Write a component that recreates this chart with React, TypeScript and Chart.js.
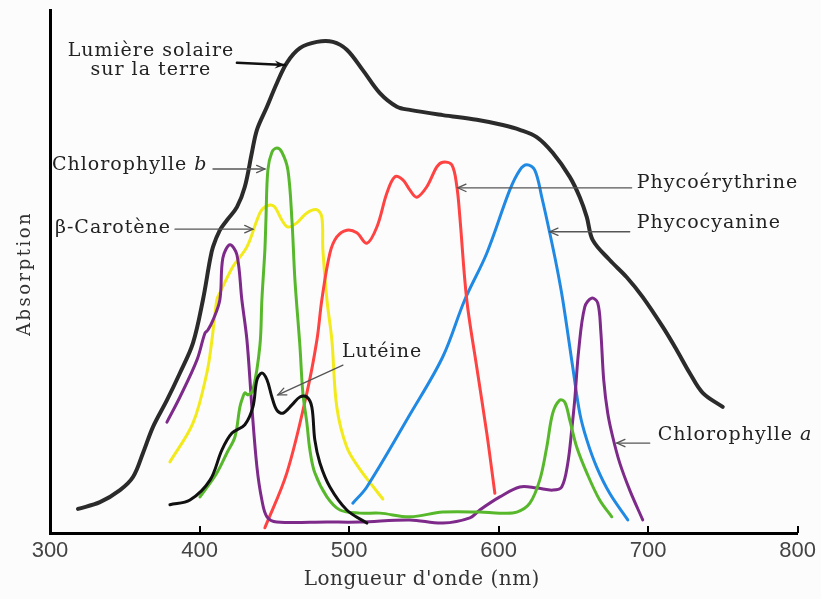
import React, { useEffect, useRef } from "react";
import { Chart, registerables } from "chart.js";

Chart.register(...registerables);

const W = 821;
const H = 599;

// Axis ranges (wavelength in nm, absorption in relative units)
const X_MIN = 300;
const X_MAX = 800;
const X_STEP = 100;
const Y_MIN = 0;
const Y_MAX = 100;

// Lumière solaire sur la terre
const sunNm = [318.7, 333.4, 346.8, 355.5, 362.2, 368.9, 378.2, 386.9, 395.6, 402.3, 407.0, 409.0, 413.6, 418.3, 425.0, 430.3, 435.0, 438.4, 445.1, 451.7, 458.4, 467.1, 478.5, 489.2, 498.5, 509.2, 520.6, 532.0, 540.6, 562.7, 585.4, 602.8, 614.2, 625.5, 636.2, 647.6, 654.3, 659.0, 663.0, 674.3, 685.7, 696.4, 709.8, 719.1, 727.8, 736.5, 749.9];
const sunAbs = [4.6, 5.9, 8.2, 10.7, 15.3, 20.3, 25.4, 30.6, 36.3, 44.6, 52.2, 54.7, 57.9, 59.8, 62.3, 66.2, 72.7, 77.1, 81.5, 86.0, 89.9, 92.7, 93.9, 93.9, 92.4, 88.5, 84.1, 81.5, 80.9, 79.9, 79.0, 78.0, 77.1, 75.7, 72.7, 68.1, 64.2, 60.4, 56.0, 52.2, 48.9, 45.1, 39.4, 35.0, 30.6, 26.8, 24.1];

// Chlorophylle b
const chlBNm = [400.3, 411.6, 418.3, 423.7, 427.0, 429.0, 430.3, 432.4, 435.7, 440.4, 441.7, 443.7, 444.4, 445.7, 448.4, 451.7, 455.1, 459.1, 461.8, 463.8, 467.1, 469.1, 471.8, 473.8, 477.1, 485.2, 493.9, 507.2, 520.6, 540.6, 562.7, 587.4, 600.8, 612.2, 620.9, 627.5, 632.2, 636.2, 640.9, 644.3, 647.6, 652.3, 659.0, 667.6, 675.7];
const chlBAbs = [6.9, 11.5, 15.3, 18.4, 24.1, 26.0, 26.8, 26.4, 27.3, 35.9, 44.6, 54.1, 59.8, 69.4, 72.8, 73.6, 72.8, 69.4, 59.8, 48.4, 35.9, 26.8, 21.0, 15.9, 11.5, 6.9, 4.4, 3.8, 3.8, 3.1, 4.0, 4.0, 3.8, 4.0, 5.7, 10.1, 16.4, 22.9, 25.4, 25.0, 21.6, 16.4, 11.5, 6.3, 3.1];

// Chlorophylle a
const chlANm = [378.2, 386.9, 398.3, 403.6, 405.6, 409.0, 413.6, 415.6, 420.3, 425.0, 428.3, 431.7, 435.0, 438.4, 441.7, 445.1, 451.7, 485.2, 507.2, 540.6, 562.7, 580.8, 587.4, 600.8, 614.2, 625.5, 636.2, 642.2, 646.3, 648.9, 650.9, 653.6, 657.6, 662.3, 666.3, 668.3, 670.3, 673.0, 676.3, 681.0, 687.7, 696.4];
const chlAAbs = [21.2, 26.0, 33.1, 38.2, 38.8, 40.7, 44.6, 52.6, 55.1, 53.2, 44.6, 36.9, 24.1, 12.6, 6.3, 3.1, 2.1, 2.1, 2.1, 2.5, 1.9, 2.9, 4.4, 6.9, 8.8, 8.6, 8.2, 8.8, 13.4, 19.7, 25.4, 35.0, 43.2, 44.9, 44.0, 38.8, 29.3, 22.9, 18.4, 13.4, 8.2, 2.5];

// Phycoérythrine
const phycoENm = [443.7, 458.4, 471.8, 478.5, 481.8, 487.2, 491.8, 498.5, 505.2, 511.9, 518.6, 525.3, 530.6, 536.0, 540.6, 545.3, 552.0, 558.7, 562.7, 568.7, 572.1, 574.1, 578.7, 585.4, 592.1, 597.5];
const phycoEAbs = [1.0, 11.5, 26.8, 36.9, 44.6, 53.5, 56.6, 57.9, 57.4, 55.4, 58.5, 65.0, 68.1, 67.5, 65.6, 64.2, 66.2, 70.0, 70.9, 70.4, 66.2, 60.4, 44.6, 31.7, 19.1, 7.6];

// Phycocyanine
const phycoCNm = [502.5, 511.9, 540.6, 562.7, 577.4, 592.1, 607.5, 614.2, 618.9, 624.2, 628.9, 634.2, 638.9, 642.9, 649.6, 654.3, 659.0, 665.6, 674.3, 686.4];
const phycoCAbs = [5.7, 8.8, 22.6, 33.7, 44.6, 53.5, 65.6, 69.4, 70.4, 69.4, 64.2, 57.4, 50.9, 44.6, 31.7, 22.9, 17.8, 12.6, 7.6, 2.5];

// β-Carotène
const caroNm = [380.2, 395.6, 404.9, 408.3, 411.6, 413.6, 422.3, 431.7, 438.4, 441.7, 447.1, 450.4, 455.1, 459.1, 465.1, 471.8, 478.5, 481.8, 482.5, 485.2, 488.5, 491.8, 498.5, 507.2, 515.2, 522.6];
const caroAbs = [13.6, 21.0, 30.6, 36.9, 44.6, 45.9, 50.9, 54.7, 59.8, 61.8, 62.7, 62.3, 59.8, 58.5, 59.3, 61.2, 61.8, 60.4, 54.1, 44.6, 36.9, 24.1, 16.4, 12.2, 9.2, 6.5];

// Lutéine
const lutNm = [380.2, 393.6, 407.0, 415.0, 421.7, 430.3, 435.7, 438.4, 441.7, 445.1, 448.4, 451.7, 455.7, 461.8, 467.1, 471.8, 475.1, 477.1, 480.5, 487.2, 498.5, 511.9];
const lutAbs = [5.4, 6.3, 10.1, 15.9, 19.1, 20.7, 24.1, 29.3, 30.6, 29.3, 26.0, 23.5, 22.9, 24.5, 26.0, 26.0, 24.1, 17.8, 13.4, 8.8, 4.4, 1.9];

const SERIF = '"DejaVu Serif", "Liberation Serif", serif';
const TICK_FONT = '"Liberation Sans", "DejaVu Sans", sans-serif';

type Series = { label: string; nm: number[]; abs: number[]; color: string; width: number };

// First entry ends up drawn on top
const SERIES: Series[] = [
  { label: "Lutéine", nm: lutNm, abs: lutAbs, color: "#111111", width: 3 },
  { label: "Chlorophylle b", nm: chlBNm, abs: chlBAbs, color: "#58b82c", width: 3 },
  { label: "Chlorophylle a", nm: chlANm, abs: chlAAbs, color: "#7d2a8a", width: 3 },
  { label: "Phycoérythrine", nm: phycoENm, abs: phycoEAbs, color: "#ff4242", width: 3 },
  { label: "Phycocyanine", nm: phycoCNm, abs: phycoCAbs, color: "#2089e3", width: 3 },
  { label: "β-Carotène", nm: caroNm, abs: caroAbs, color: "#f2ea1a", width: 3 },
  { label: "Lumière solaire sur la terre", nm: sunNm, abs: sunAbs, color: "#2b2b2b", width: 4 },
];

// Callout labels: text anchor and arrow in data coordinates
type Note = {
  lines: string[];
  italic?: string;
  at: [number, number];
  align: "left" | "center";
  tail: [number, number];
  tip: [number, number];
  heavy?: boolean;
};

const NOTES: Note[] = [
  { lines: ["Lumière solaire", "sur la terre"], at: [367.5, 92.2], align: "center", tail: [425.0, 89.9], tip: [457.1, 89.5], heavy: true },
  { lines: ["Chlorophylle "], italic: "b", at: [301.3, 70.4], align: "left", tail: [409.0, 69.6], tip: [443.7, 69.6] },
  { lines: ["β-Carotène"], at: [303.3, 58.3], align: "left", tail: [383.6, 58.1], tip: [435.7, 58.1] },
  { lines: ["Phycoérythrine"], at: [692.4, 66.9], align: "left", tail: [689.0, 66.0], tip: [572.7, 66.0] },
  { lines: ["Phycocyanine"], at: [692.4, 59.3], align: "left", tail: [687.7, 57.6], tip: [634.2, 57.6] },
  { lines: ["Chlorophylle "], italic: "a", at: [706.4, 18.7], align: "left", tail: [701.1, 17.2], tip: [679.0, 17.2] },
  { lines: ["Lutéine"], at: [495.2, 34.6], align: "left", tail: [495.9, 32.1], tip: [452.4, 26.4] },
];

const X_TITLE = "Longueur d'onde (nm)";
const Y_TITLE = "Absorption";

function arrow(ctx: CanvasRenderingContext2D, x1: number, y1: number, x2: number, y2: number, heavy: boolean) {
  const ang = Math.atan2(y2 - y1, x2 - x1);
  ctx.save();
  ctx.strokeStyle = heavy ? "#111" : "#555";
  ctx.fillStyle = heavy ? "#111" : "#555";
  ctx.lineWidth = heavy ? 2.5 : 1.3;
  ctx.lineCap = "round";
  ctx.beginPath();
  ctx.moveTo(x1, y1);
  ctx.lineTo(x2, y2);
  ctx.stroke();
  const len = heavy ? 11 : 9;
  const spread = heavy ? 0.38 : 0.42;
  if (heavy) {
    ctx.beginPath();
    ctx.moveTo(x2, y2);
    ctx.lineTo(x2 - len * Math.cos(ang - spread), y2 - len * Math.sin(ang - spread));
    ctx.lineTo(x2 - len * 0.6 * Math.cos(ang), y2 - len * 0.6 * Math.sin(ang));
    ctx.lineTo(x2 - len * Math.cos(ang + spread), y2 - len * Math.sin(ang + spread));
    ctx.closePath();
    ctx.fill();
  } else {
    ctx.beginPath();
    ctx.moveTo(x2 - len * Math.cos(ang - spread), y2 - len * Math.sin(ang - spread));
    ctx.lineTo(x2, y2);
    ctx.lineTo(x2 - len * Math.cos(ang + spread), y2 - len * Math.sin(ang + spread));
    ctx.stroke();
  }
  ctx.restore();
}

const decorations = {
  id: "decorations",
  afterDatasetsDraw(chart: any) {
    const ctx: CanvasRenderingContext2D = chart.ctx;
    const xs = chart.scales.x;
    const ys = chart.scales.y;
    const area = chart.chartArea;

    // inward tick marks on the wavelength axis
    ctx.save();
    ctx.strokeStyle = "#000";
    ctx.lineWidth = 2;
    for (let v = X_MIN + X_STEP; v <= X_MAX; v += X_STEP) {
      const px = Math.round(xs.getPixelForValue(v));
      ctx.beginPath();
      ctx.moveTo(px, area.bottom);
      ctx.lineTo(px, area.bottom - 7);
      ctx.stroke();
    }
    ctx.restore();

    // callouts
    ctx.save();
    ctx.fillStyle = "#222";
    ctx.textBaseline = "middle";
    (ctx as any).letterSpacing = "1px";
    const size = 19;
    const lineGap = 19;
    for (const n of NOTES) {
      const tx = xs.getPixelForValue(n.at[0]);
      const ty = ys.getPixelForValue(n.at[1]);
      n.lines.forEach((line, i) => {
        ctx.font = `${size}px ${SERIF}`;
        ctx.textAlign = n.align;
        ctx.fillText(line, tx, ty + i * lineGap);
        if (n.italic && i === n.lines.length - 1) {
          const w = ctx.measureText(line).width;
          ctx.font = `italic ${size}px ${SERIF}`;
          ctx.textAlign = "left";
          ctx.fillText(n.italic, tx + w, ty + i * lineGap);
        }
      });
      arrow(
        ctx,
        xs.getPixelForValue(n.tail[0]),
        ys.getPixelForValue(n.tail[1]),
        xs.getPixelForValue(n.tip[0]),
        ys.getPixelForValue(n.tip[1]),
        !!n.heavy
      );
    }
    ctx.restore();

    // axis titles
    ctx.save();
    ctx.fillStyle = "#333";
    ctx.textBaseline = "middle";
    ctx.textAlign = "center";
    (ctx as any).letterSpacing = "0.5px";
    ctx.font = `20px ${SERIF}`;
    ctx.fillText(X_TITLE, (area.left + area.right) / 2 - 2, 580);
    ctx.translate(25, (area.top + area.bottom) / 2 + 2);
    ctx.rotate(-Math.PI / 2);
    (ctx as any).letterSpacing = "2.5px";
    ctx.font = `18px ${SERIF}`;
    ctx.fillText(Y_TITLE, 0, 0);
    ctx.restore();
  },
};

export default function App() {
  const ref = useRef<HTMLCanvasElement | null>(null);

  useEffect(() => {
    if (!ref.current) return;
    const chart = new Chart(ref.current, {
      type: "line",
      data: {
        datasets: SERIES.map((s) => ({
          label: s.label,
          data: s.nm.map((x, i) => ({ x, y: s.abs[i] })),
          borderColor: s.color,
          borderWidth: s.width,
          pointRadius: 0,
          fill: false,
          tension: 0.35,
          borderCapStyle: "round" as const,
          borderJoinStyle: "round" as const,
        })),
      },
      options: {
        responsive: false,
        animation: false,
        layout: { padding: { top: 10, right: 23, left: 0, bottom: 0 } },
        plugins: { legend: { display: false }, tooltip: { enabled: false } },
        scales: {
          x: {
            type: "linear",
            min: X_MIN,
            max: X_MAX,
            ticks: {
              stepSize: X_STEP,
              autoSkip: false,
              maxRotation: 0,
              padding: 5,
              color: "#444",
              font: { family: TICK_FONT, size: 22 },
            },
            grid: { display: false, drawTicks: false },
            border: { display: true, color: "#000", width: 3 },
            afterFit: (s: any) => {
              s.height = 66;
            },
          },
          y: {
            min: Y_MIN,
            max: Y_MAX,
            ticks: { display: false },
            grid: { display: false, drawTicks: false },
            border: { display: true, color: "#000", width: 3 },
            afterFit: (s: any) => {
              s.width = 50;
            },
          },
        },
      },
      plugins: [decorations],
    });
    return () => chart.destroy();
  }, []);

  return (
    <div style={{ position: "fixed", left: 0, top: 0, width: W, height: H, background: "#fcfcfc" }}>
      <canvas ref={ref} width={W} height={H} style={{ display: "block" }} />
    </div>
  );
}
